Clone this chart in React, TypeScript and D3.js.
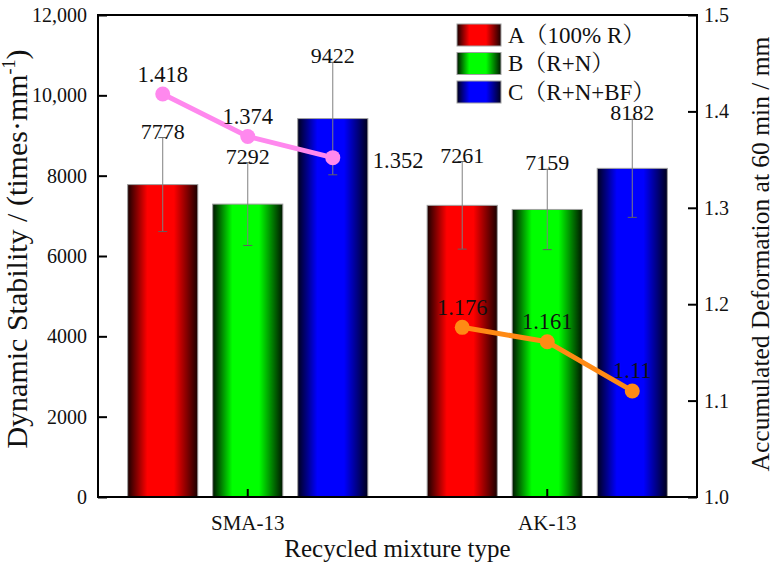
import { useEffect, useRef } from "react";
import * as d3 from "d3";

// ── Data ──────────────────────────────────────────────────────────────────────

const CATEGORIES = ["SMA-13", "AK-13"];
const SERIES = ["A（100% R）", "B（R+N）", "C（R+N+BF）"];

const STABILITY_SMA = [7778, 7292, 9422];
const STABILITY_AK  = [7261, 7159, 8182];
const ERROR_SMA     = [1170, 1030, 1400];
const ERROR_AK      = [1090, 1000, 1220];

const DEFORM_SMA = [1.418, 1.374, 1.352];
const DEFORM_AK  = [1.176, 1.161, 1.11];

const LEFT_TICKS  = [0, 2000, 4000, 6000, 8000, 10000, 12000];
const RIGHT_TICKS = [1.0, 1.1, 1.2, 1.3, 1.4, 1.5];

// ── Config ────────────────────────────────────────────────────────────────────

const WIDTH  = 777;
const HEIGHT = 568;
const MARGIN = { top: 15, right: 80, bottom: 71, left: 98 };
const FONT   = "'Liberation Serif', 'Times New Roman', 'Noto Serif CJK SC', 'Noto Sans CJK SC', serif";

const BAR_COLORS  = [
  { bright: "#ff0000", dark: "#1a0000" },
  { bright: "#00ff00", dark: "#001600" },
  { bright: "#0000ff", dark: "#00001c" },
];
const LINE_COLORS = ["#ff88ee", "#ff8a14"];

// the one deformation label that sits beside its point instead of above it
const SIDE_LABEL = { category: "SMA-13", index: 2 };

// ── Component ─────────────────────────────────────────────────────────────────

const App = () => {
  const svgRef = useRef<SVGSVGElement>(null);

  useEffect(() => {
    document.body.style.margin = "0";
    if (!svgRef.current) return;

    const width  = WIDTH  - MARGIN.left - MARGIN.right;
    const height = HEIGHT - MARGIN.top  - MARGIN.bottom;

    const root = d3.select(svgRef.current);
    root.selectAll("*").remove();

    const stability = [STABILITY_SMA, STABILITY_AK];
    const errors    = [ERROR_SMA, ERROR_AK];
    const deform    = [DEFORM_SMA, DEFORM_AK];

    // Gradients
    const defs = root.append("defs");
    BAR_COLORS.forEach((c, i) => {
      const g = defs.append("linearGradient")
        .attr("id", `bar-grad-${i}`)
        .attr("x1", "0").attr("x2", "1").attr("y1", "0").attr("y2", "0");
      [
        { o: "0%",   c: c.dark },
        { o: "28%",  c: c.bright },
        { o: "66%",  c: c.bright },
        { o: "100%", c: c.dark },
      ].forEach((s) => g.append("stop").attr("offset", s.o).attr("stop-color", s.c));
    });

    const svg = root.append("g")
      .attr("transform", `translate(${MARGIN.left},${MARGIN.top})`)
      .attr("font-family", FONT);

    const x0 = d3.scaleBand().domain(CATEGORIES).range([0, width]).padding(0);
    const bw = x0.bandwidth();
    const x1 = d3.scaleBand().domain(SERIES).range([bw * 0.099, bw * 0.901]).paddingInner(0.175);

    const yLeft  = d3.scaleLinear().domain([0, 12000]).range([height, 0]);
    const yRight = d3.scaleLinear().domain([1.0, 1.5]).range([height, 0]);

    // Bars
    CATEGORIES.forEach((cat, ci) => {
      const g = svg.append("g").attr("transform", `translate(${x0(cat)},0)`);
      SERIES.forEach((s, si) => {
        const v = stability[ci][si];
        const e = errors[ci][si];
        const bx = x1(s) ?? 0;
        const cx = bx + x1.bandwidth() / 2;

        g.append("rect")
          .attr("x", bx)
          .attr("y", yLeft(v))
          .attr("width", x1.bandwidth())
          .attr("height", height - yLeft(v))
          .attr("fill", `url(#bar-grad-${si})`)
          .attr("stroke", "#a0a0a0")
          .attr("stroke-width", 1);

        // Error bar
        const top = yLeft(v + e);
        const bot = yLeft(v - e);
        g.append("line")
          .attr("x1", cx).attr("x2", cx).attr("y1", top).attr("y2", bot)
          .attr("stroke", "#808080").attr("stroke-width", 1);
        [top, bot].forEach((yy) => {
          g.append("line")
            .attr("x1", cx - 4.5).attr("x2", cx + 4.5).attr("y1", yy).attr("y2", yy)
            .attr("stroke", "#606060").attr("stroke-width", 1);
        });

        g.append("text")
          .attr("x", cx)
          .attr("y", top + 1)
          .attr("text-anchor", "middle")
          .attr("font-size", 22)
          .attr("fill", "#111")
          .text(String(v));
      });
    });

    // Deformation lines
    CATEGORIES.forEach((cat, ci) => {
      const pts = deform[ci].map((d, i) => ({
        x: (x0(cat) ?? 0) + (x1(SERIES[i]) ?? 0) + x1.bandwidth() / 2,
        y: yRight(d),
        v: d,
        i,
      }));
      const line = d3.line<{ x: number; y: number }>().x((d) => d.x).y((d) => d.y);

      svg.append("path")
        .datum(pts)
        .attr("fill", "none")
        .attr("stroke", LINE_COLORS[ci])
        .attr("stroke-width", 5)
        .attr("stroke-linejoin", "round")
        .attr("d", line);

      svg.selectAll(`.dot-${ci}`)
        .data(pts)
        .join("circle")
        .attr("class", `dot-${ci}`)
        .attr("cx", (d) => d.x)
        .attr("cy", (d) => d.y)
        .attr("r", 7.5)
        .attr("fill", LINE_COLORS[ci]);

      pts.forEach((p) => {
        const side = cat === SIDE_LABEL.category && p.i === SIDE_LABEL.index;
        svg.append("text")
          .attr("x", side ? p.x + 40 : p.x)
          .attr("y", side ? p.y + 10 : p.y - 12.5)
          .attr("text-anchor", side ? "start" : "middle")
          .attr("font-size", 22.5)
          .attr("fill", "#111")
          .text(String(p.v));
      });
    });

    const styleAxis = (axis: d3.Selection<SVGGElement, unknown, null, undefined>) => {
      axis.attr("font-family", FONT).attr("font-size", 20);
      axis.select(".domain").remove();
      axis.selectAll("line").attr("stroke", "#000").attr("stroke-width", 2);
      axis.selectAll("text").attr("fill", "#111");
    };

    // Left axis
    const leftAxis = svg.append("g")
      .call(
        d3.axisLeft(yLeft)
          .tickValues(LEFT_TICKS)
          .tickSizeInner(-9)
          .tickSizeOuter(0)
          .tickPadding(11)
          .tickFormat((d) => ((d as number) >= 10000 ? d3.format(",")(d as number) : String(d)))
      );
    styleAxis(leftAxis);

    // Right axis
    const rightAxis = svg.append("g")
      .attr("transform", `translate(${width},0)`)
      .call(
        d3.axisRight(yRight)
          .tickValues(RIGHT_TICKS)
          .tickSizeInner(-9)
          .tickSizeOuter(0)
          .tickPadding(7)
          .tickFormat(d3.format(".1f"))
      );
    styleAxis(rightAxis);

    // Bottom axis
    const bottomAxis = svg.append("g")
      .attr("transform", `translate(0,${height})`)
      .call(d3.axisBottom(x0).tickSizeInner(-8).tickSizeOuter(0).tickPadding(18));
    styleAxis(bottomAxis);
    bottomAxis.attr("font-size", 21);

    // Frame
    svg.append("rect")
      .attr("x", 0).attr("y", 0)
      .attr("width", width).attr("height", height)
      .attr("fill", "none")
      .attr("stroke", "#000")
      .attr("stroke-width", 2);

    // Legend
    const legend = svg.append("g").attr("transform", `translate(${457 - MARGIN.left},${24 - MARGIN.top})`);
    SERIES.forEach((s, i) => {
      const row = legend.append("g").attr("transform", `translate(0,${i * 28.5})`);
      row.append("rect")
        .attr("width", 44).attr("height", 22)
        .attr("fill", `url(#bar-grad-${i})`)
        .attr("stroke", "#a0a0a0").attr("stroke-width", 1);
      row.append("text")
        .attr("x", 51).attr("y", 11)
        .attr("dominant-baseline", "central")
        .attr("font-size", 23)
        .attr("fill", "#111")
        .text(s);
    });

    // Axis titles
    svg.append("text")
      .attr("x", width / 2)
      .attr("y", height + 60)
      .attr("text-anchor", "middle")
      .attr("font-size", 25)
      .attr("fill", "#111")
      .text("Recycled mixture type");

    const leftTitle = svg.append("text")
      .attr("transform", `translate(${-71},${height / 2 - 7}) rotate(-90)`)
      .attr("text-anchor", "middle")
      .attr("font-size", 30)
      .attr("fill", "#111");
    leftTitle.append("tspan").text("Dynamic Stability / (times·mm");
    leftTitle.append("tspan").attr("dy", -12).attr("font-size", 18).text("-1");
    leftTitle.append("tspan").attr("dy", 12).text(")");

    svg.append("text")
      .attr("transform", `translate(${width + 72},${height / 2 - 2}) rotate(-90)`)
      .attr("text-anchor", "middle")
      .attr("font-size", 25.5)
      .attr("fill", "#111")
      .text("Accumulated Deformation at 60 min / mm");
  }, []);

  return <svg ref={svgRef} width={WIDTH} height={HEIGHT} style={{ display: "block", background: "#fff" }} />;
};

export default App;
